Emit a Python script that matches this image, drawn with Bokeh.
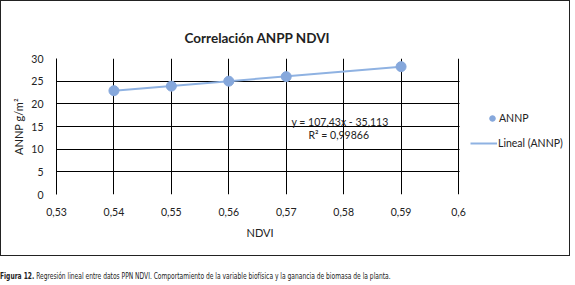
from bokeh.plotting import figure
from bokeh.models import (FixedTicker, CustomJSTickFormatter, Label, Legend,
                          LegendItem, Div, BoxAnnotation, Title)
from bokeh.layouts import column
from bokeh.embed import file_html
from bokeh.resources import INLINE
import numpy as np

# ---- data ----
ndvi = [0.54, 0.55, 0.56, 0.57, 0.59]
annp = [22.9, 23.9, 25.0, 26.0, 28.2]
x_ticks = [0.53, 0.54, 0.55, 0.56, 0.57, 0.58, 0.59, 0.60]
y_ticks = [0, 5, 10, 15, 20, 25, 30]
title_text = "Correlación ANPP NDVI"
x_label = "NDVI"
y_label = "ANNP g/m²"
eq_text = "y = 107,43x - 35,113"
r2_text = "R² = 0,99866"
series_name = "ANNP"
trend_name = "Lineal (ANNP)"
caption_bold = "Figura 12."
caption_text = ("Regresión lineal entre datos PPN NDVI. Comportamiento de la variable "
                "biofísica y la ganancia de biomasa de la planta.")

FONT = "Lato"
W, H = 570, 256
# plot area in page coordinates
FL, FR, FT, FB = 55, 457, 57, 193
X0, X1 = 0.53, 0.60
Y0, Y1 = 0, 30
# the frame is extended to the right edge so the legend can sit inside it
X1_EXT = X0 + (W - FL) / (FR - FL) * (X1 - X0)


def px2x(px):
    return X0 + (px - FL) / (FR - FL) * (X1 - X0)


def px2y(py):
    return Y0 + (FB - py) / (FB - FT) * (Y1 - Y0)


p = figure(width=W, height=H, x_range=(X0, X1_EXT), y_range=(Y0, Y1),
           output_backend="svg", toolbar_location=None,
           min_border_left=FL, min_border_right=0,
           min_border_top=FT, min_border_bottom=H - FB,
           title=title_text)
p.styles = {"border": "1px solid #222222"}
p.title.align = "left"
p.title.text_font = FONT
p.title.text_font_style = "bold"
p.title.text_font_size = "13.5px"
p.title.text_color = "#222222"
p.title.offset = 183 - FL
# small empty spacer between the plot area and the title
p.add_layout(Title(text=" ", text_font_size="5px", standoff=0), "above")

p.background_fill_color = "white"
p.border_fill_color = "white"
p.outline_line_color = None

for ax in (p.xaxis[0], p.yaxis[0]):
    ax.major_tick_line_color = None
    ax.minor_tick_line_color = None
    ax.major_tick_in = 0
    ax.major_tick_out = 0
    ax.major_label_text_font = FONT
    ax.major_label_text_font_size = "10.5px"
    ax.major_label_text_color = "#222222"
    ax.axis_label_text_font = FONT
    ax.axis_label_text_font_size = "11px"
    ax.axis_label_text_font_style = "normal"
    ax.axis_label_text_color = "#222222"
p.yaxis.axis_line_color = "black"
p.xaxis.axis_line_color = None

p.xaxis.ticker = FixedTicker(ticks=x_ticks)
p.yaxis.ticker = FixedTicker(ticks=y_ticks)
p.xaxis.formatter = CustomJSTickFormatter(
    code="return (Math.round(tick*100)/100).toString().replace('.', ',');")
p.yaxis.axis_label = y_label
p.xaxis.major_label_standoff = 13
p.yaxis.major_label_standoff = 13
p.yaxis.axis_label_standoff = 3

# x axis title, placed under the plot area (centred on it, not on the frame)
p.add_layout(Title(text=x_label, align="left", offset=245 - FL, standoff=11,
                   text_font=FONT, text_font_size="11px", text_font_style="normal",
                   text_color="#222222"), "below")

p.xgrid.grid_line_color = "black"
p.ygrid.grid_line_color = "black"
p.xgrid.grid_line_width = 1
p.ygrid.grid_line_width = 1

# blank the part of the frame right of the plot area
p.add_layout(BoxAnnotation(left=px2x(FR + 1), fill_color="white", fill_alpha=1,
                           line_color=None))

# trend line from least squares fit
coef = np.polyfit(ndvi, annp, 1)
tx = [min(ndvi), max(ndvi)]
ty = [coef[0] * v + coef[1] for v in tx]
trend = p.line(tx, ty, line_color="#8FB2E2", line_width=2)
pts = p.scatter(ndvi, annp, size=10, marker="circle",
                fill_color="#86A8DC", line_color="#86A8DC")

# legends (one per entry, as the marker sits right next to its label)
leg_style = dict(glyph_height=20, label_height=20, padding=0, margin=0,
                 border_line_color=None, background_fill_alpha=0,
                 label_text_font=FONT, label_text_font_size="10.5px",
                 label_text_color="#222222")
leg1 = Legend(items=[LegendItem(label=series_name, renderers=[pts])],
              location=(484 - FL, FB - 127), glyph_width=14, label_standoff=0,
              **leg_style)
leg2 = Legend(items=[LegendItem(label=trend_name, renderers=[trend])],
              location=(469 - FL, FB - 152), glyph_width=27, label_standoff=1,
              **leg_style)
p.add_layout(leg1)
p.add_layout(leg2)

# equation
p.add_layout(Label(x=px2x(290), y=px2y(120), text=eq_text, text_align="left",
                   text_baseline="middle", text_font=FONT, text_font_size="10.5px",
                   text_color="#222222"))
p.add_layout(Label(x=px2x(307), y=px2y(133), text=r2_text, text_align="left",
                   text_baseline="middle", text_font=FONT, text_font_size="10.5px",
                   text_color="#222222"))

# caption
caption = Div(text=(f'<span style="display:inline-block;transform:scaleX(0.78);'
                    f'transform-origin:left center;"><b>{caption_bold}</b> {caption_text}</span>'),
              width=575, height=14, margin=(14, 0, 0, 0),
              styles={"font-family": "'Liberation Sans Narrow', 'DejaVu Sans Condensed', sans-serif",
                      "font-size": "8.5px", "color": "#222222", "white-space": "nowrap",
                      "line-height": "12px"})

layout = column(p, caption, spacing=0)
open("out.html", "w").write(file_html(layout, INLINE))
